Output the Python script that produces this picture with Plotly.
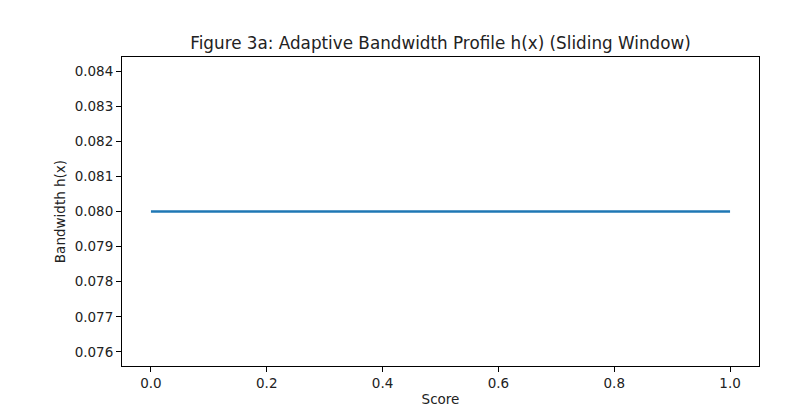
import plotly.graph_objects as go

score = [0.0, 0.25, 0.5, 0.75, 1.0]
bandwidth = [0.08, 0.08, 0.08, 0.08, 0.08]

x_ticks = [0.0, 0.2, 0.4, 0.6, 0.8, 1.0]
x_ticktext = ["0.0", "0.2", "0.4", "0.6", "0.8", "1.0"]
y_ticks = [0.076, 0.077, 0.078, 0.079, 0.080, 0.081, 0.082, 0.083, 0.084]
y_ticktext = ["0.076", "0.077", "0.078", "0.079", "0.080", "0.081", "0.082", "0.083", "0.084"]

# page body has an 8px margin, so the figure is shrunk to fit the window
W, H = 799, 409
left, right, top, bottom = 122 - 8, 759 - 8, 57 - 8, 370 - 8

fig = go.Figure()

fig.add_trace(go.Scatter(
    x=score,
    y=bandwidth,
    mode='lines',
    line=dict(color='#1f77b4', width=2.6),
    showlegend=False
))

axis_style = dict(
    showline=True,
    linecolor='black',
    linewidth=1,
    mirror=True,
    ticks='outside',
    ticklen=5,
    tickwidth=1,
    tickcolor='black',
    showgrid=False,
    zeroline=False,
    tickfont=dict(family='DejaVu Sans', size=13.5, color='#222'),
)

fig.update_layout(
    width=W,
    height=H,
    paper_bgcolor='white',
    plot_bgcolor='white',
    font=dict(family='DejaVu Sans', color='#222'),
    title=dict(
        text="Figure 3a: Adaptive Bandwidth Profile h(x) (Sliding Window)",
        x=(left + right) / 2 / W,
        xanchor='center',
        y=1 - (43 - 8) / H,
        yanchor='middle',
        font=dict(size=16.8, family='DejaVu Sans', color='#222')
    ),
    xaxis=dict(
        axis_style,
        range=[-0.05, 1.05],
        tickvals=x_ticks,
        ticktext=x_ticktext,
        title=dict(text="Score", font=dict(size=13.5), standoff=4),
    ),
    yaxis=dict(
        axis_style,
        range=[0.0756, 0.0844],
        tickvals=y_ticks,
        ticktext=y_ticktext,
        title=dict(text="Bandwidth h(x)", font=dict(size=13.5), standoff=5),
    ),
    margin=dict(l=left, r=W - right, t=top, b=H - bottom),
)

fig.write_html("out.html")
